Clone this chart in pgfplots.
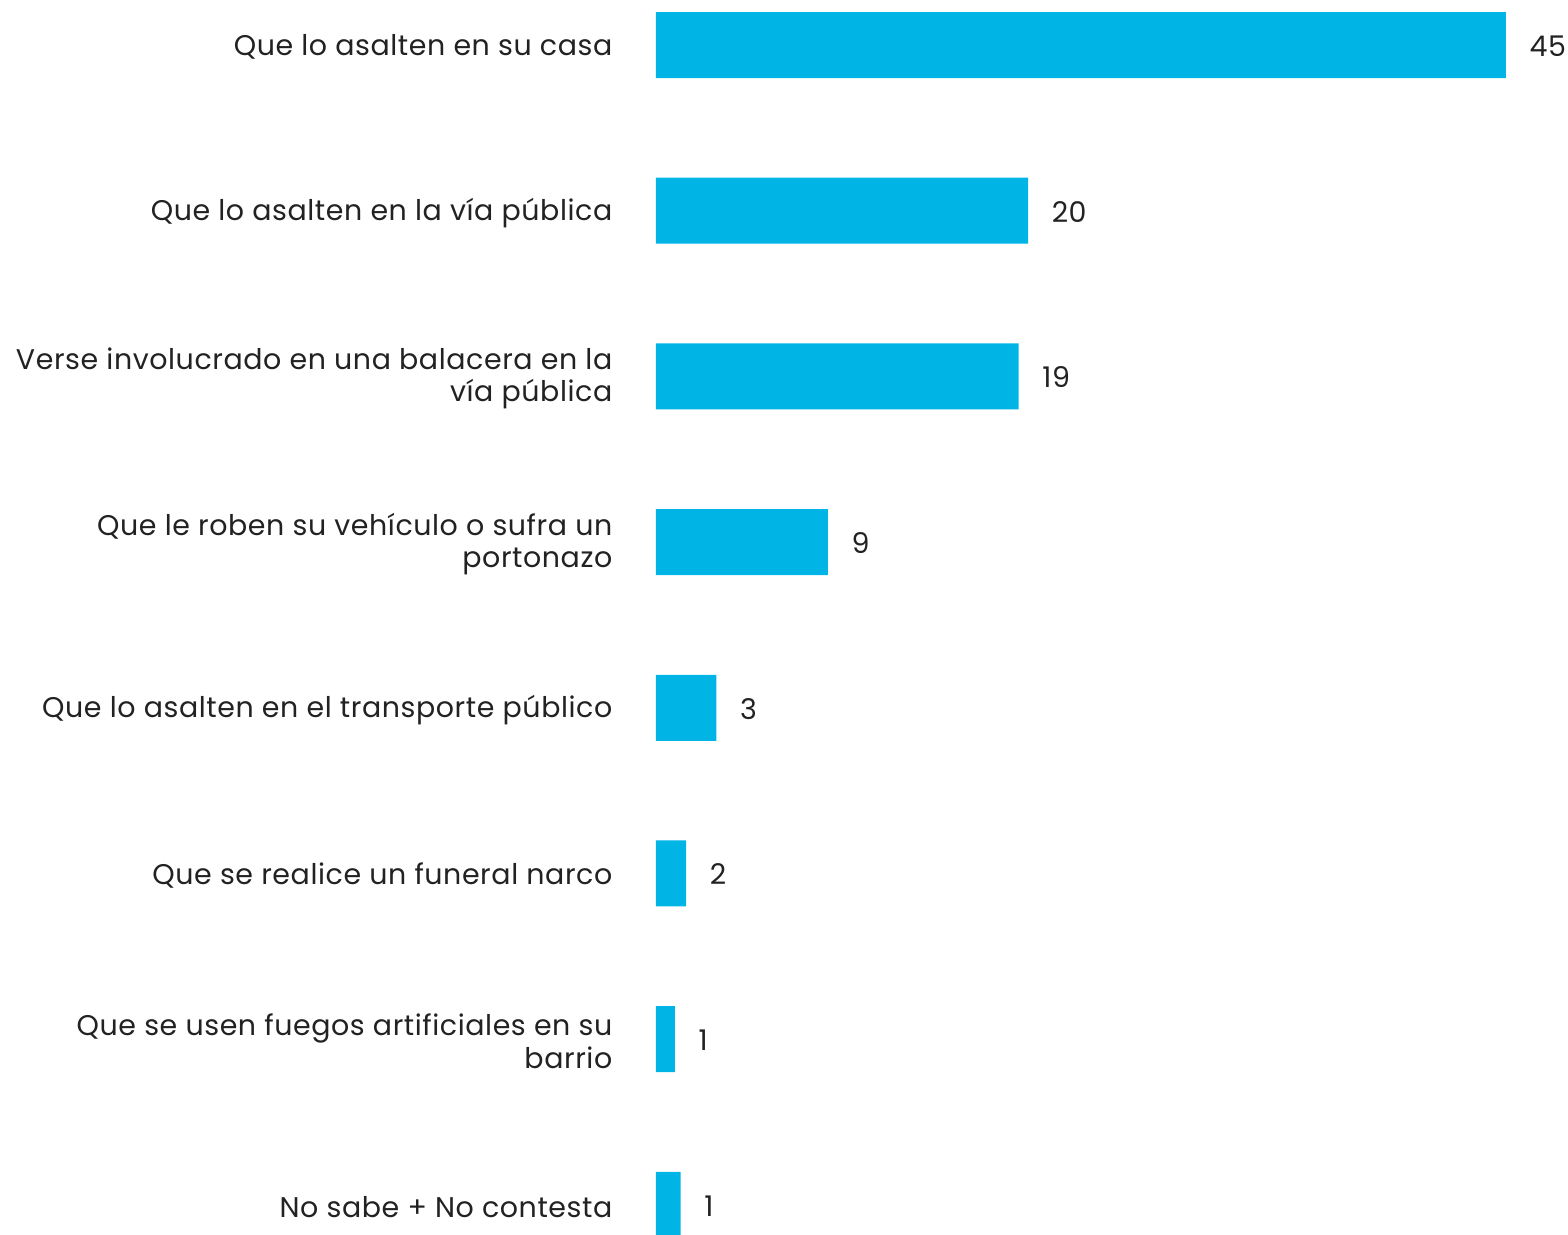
\documentclass[border=0pt]{standalone}
\usepackage{pgfplots}
\pgfplotsset{compat=1.18}
\usepackage{pgfplotstable}
\usepackage{fontspec}
\setmainfont{Poppins}[LetterSpace=2]
\definecolor{barblue}{HTML}{00B5E6}
\definecolor{txt}{HTML}{222222}

\pgfplotstableread{
pos val lab
0 45.0 45
1 19.7 20
2 19.2 19
3 9.1 9
4 3.2 3
5 1.6 2
6 1.0 1
7 1.3 1
}\datatable

\begin{document}
\begin{tikzpicture}
\begin{axis}[
    scale only axis,
    width=85mm, height=123.4mm,
    xmin=0, xmax=45,
    ymin=-0.2716, ymax=7.176,
    y dir=reverse,
    axis line style={draw=none},
    xtick=\empty,
    ytick={0,...,7},
    major tick length=0pt,
    yticklabels={
        Que lo asalten en su casa,
        Que lo asalten en la vía pública,
        {Verse involucrado en una balacera en la\\vía pública},
        {Que le roben su vehículo o sufra un\\portonazo},
        Que lo asalten en el transporte público,
        Que se realice un funeral narco,
        {Que se usen fuegos artificiales en su\\barrio},
        No sabe + No contesta},
    yticklabel style={align=right, font=\fontsize{8.1}{9.3}\selectfont, text=txt, inner sep=0pt, xshift=-4.3mm, yshift=-0.2mm},
    /pgf/number format/assume math mode=true,
    nodes near coords={\pgfmathprintnumber{\pgfplotspointmeta}},
    point meta=explicit,
    every node near coord/.append style={font=\fontsize{8.1}{9.3}\selectfont, text=txt, anchor=west, inner sep=0pt, xshift=2.3mm, yshift=-0.1mm},
]
\addplot[xbar, bar width=6.6mm, fill=barblue, draw=none] table[x=val, y=pos, meta=lab] {\datatable};
\end{axis}
\pgfresetboundingbox
\path[use as bounding box] (current axis.south west) ++(-65.6mm,0) rectangle ++(156.8mm,123.4mm);
\end{tikzpicture}
\end{document}
